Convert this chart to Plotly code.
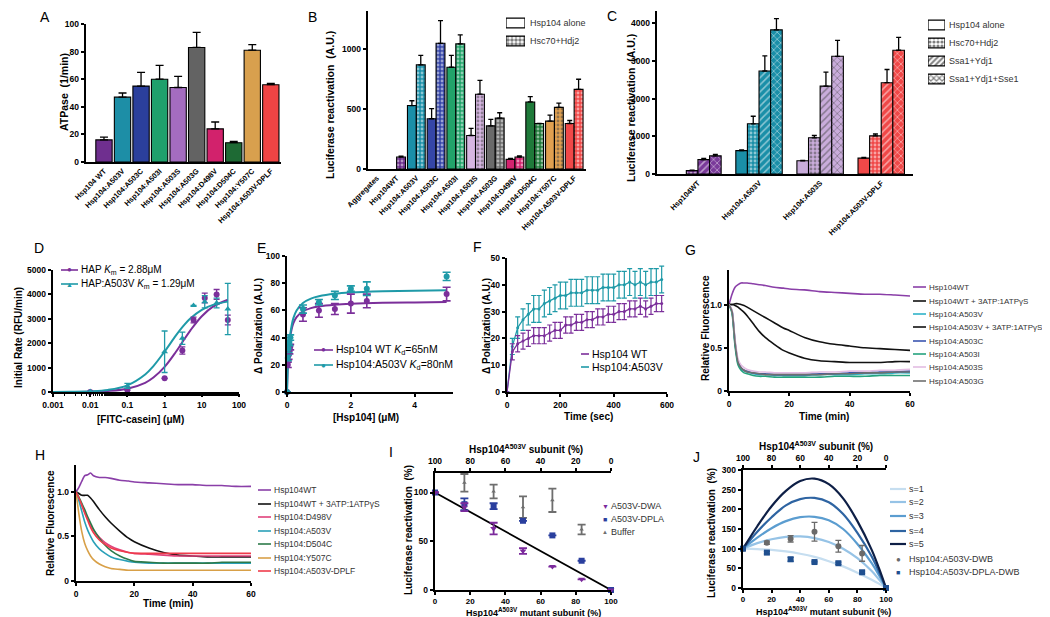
import plotly.graph_objects as go

W, H = 1050, 617

# ---------------- Panel A : ATPase ----------------
a_labels = ["Hsp104 WT", "Hsp104:A503V", "Hsp104:A503C", "Hsp104:A503I", "Hsp104:A503S",
            "Hsp104:A503G", "Hsp104:D498V", "Hsp104:D504C", "Hsp104:Y507C", "Hsp104:A503V-DPLF"]
a_values = [16, 47, 55, 60, 54, 83, 24, 14, 81, 56]
a_errors = [2, 3, 10, 10, 8, 11, 5, 1, 4, 1]
a_colors = ["#6f2f8f", "#1d8ea6", "#2b3f9c", "#1fa06c", "#a46cc0",
            "#636363", "#d2226c", "#1e6a34", "#d8a04e", "#f04444"]

# ---------------- Panel B : luciferase reactivation ----------------
b_labels = ["Aggregates", "Hsp104WT", "Hsp104:A503V", "Hsp104:A503C", "Hsp104:A503I", "Hsp104:A503S",
            "Hsp104:A503G", "Hsp104:D498V", "Hsp104:D504C", "Hsp104:Y507C", "Hsp104:A503V-DPLF"]
b_alone = [None, None, 530, 420, 850, 280, 360, 80, 560, 400, 380]
b_alone_err = [0, 0, 40, 85, 100, 60, 55, 8, 45, 50, 25]
b_hsc = [None, 100, 870, 1050, 1045, 625, 425, 100, 380, 515, 665]
b_hsc_err = [0, 8, 80, 190, 75, 115, 45, 10, 0, 35, 85]
b_colors = ["#777777", "#6a2c8a", "#1a8fa8", "#3546a8", "#22a36a", "#d6b6e2",
            "#6a6a6a", "#d4236f", "#1f7a3a", "#e0a050", "#f04848"]
b_legend = ["Hsp104 alone", "Hsc70+Hdj2"]
b_legend_patterns = ["", "."]

# ---------------- Panel C ----------------
c_labels = ["Hsp104WT", "Hsp104:A503V", "Hsp104:A503S", "Hsp104:A503V-DPLF"]
c_colors = ["#7a3a9a", "#1a8fa8", "#c9acdb", "#f04848"]
c_alone = [None, 620, 350, 420]
c_alone_err = [0, 20, 10, 20]
c_hsc = [90, 1330, 960, 1010]
c_hsc_err = [10, 200, 60, 50]
c_ssa = [380, 2730, 2330, 2420]
c_ssa_err = [35, 400, 370, 350]
c_sse = [480, 3820, 3120, 3280]
c_sse_err = [40, 300, 420, 340]
c_legend = ["Hsp104 alone", "Hsc70+Hdj2", "Ssa1+Ydj1", "Ssa1+Ydj1+Sse1"]
c_legend_patterns = ["", ".", "/", "x"]

# ---------------- Panel D ----------------
d_conc = [0.01, 0.1, 1, 3, 6, 12, 25, 50]
d_hap = [0, 80, 560, 1700, 2950, 3850, 4000, 2950]
d_hap_err = [0, 0, 0, 150, 120, 200, 200, 200]
d_a503v = [20, 250, 1650, 2200, 3550, 3700, 3650, 3400]
d_a503v_err = [0, 100, 850, 250, 0, 250, 200, 1050]
d_fit_x = [0.001, 0.003, 0.01, 0.03, 0.1, 0.3, 0.5, 1, 2, 3, 5, 10, 20, 50]
d_fit_hap = [1, 4, 14, 41, 134, 377, 592, 1031, 1639, 2041, 2538, 3106, 3497, 3782]
d_fit_a503v = [3, 9, 29, 86, 273, 717, 1061, 1659, 2310, 2657, 3021, 3366, 3570, 3704]

# ---------------- Panel E ----------------
e_conc = [0, 0.025, 0.05, 0.075, 0.1, 0.5, 1, 1.5, 2, 2.5, 5]
e_wt = [0, 20, 27, 31, 33, 57, 60, 61, 65, 67, 72]
e_wt_err = [0, 2, 3, 3, 2, 5, 5, 4, 7, 5, 5]
e_a503v = [0, 25, 32, 37, 40, 61, 66, 71, 76, 76, 85]
e_a503v_err = [0, 2, 3, 3, 2, 3, 2, 3, 2, 5, 3]
e_fit_x = [0, 0.02, 0.05, 0.1, 0.2, 0.3, 0.5, 0.75, 1, 1.5, 2, 3, 4, 5]
e_fit_wt = [0, 15.8, 29.1, 40.6, 50.6, 55.1, 59.3, 61.7, 62.9, 64.2, 64.9, 65.6, 65.9, 66.1]
e_fit_a503v = [0, 15.2, 29.2, 42.2, 54.3, 60.0, 65.5, 68.7, 70.4, 72.2, 73.1, 74.0, 74.5, 74.8]

# ---------------- Panel F ----------------
f_time = [0, 20, 40, 60, 80, 100, 120, 140, 160, 180, 200, 220, 240, 260, 280, 300,
          320, 340, 360, 380, 400, 420, 440, 460, 480, 500, 520, 540, 560, 580]
f_wt = [0, 15, 18, 19, 20, 21, 21, 21, 22, 23, 23, 25, 25, 26, 26, 27,
        27, 28, 28, 29, 29, 30, 30, 31, 31, 32, 31, 32, 33, 33]
f_wt_err = [0, 3, 3, 3, 3, 3, 3, 3, 3, 3, 3, 3, 3, 3, 3, 3,
            3, 3, 3, 3, 3, 3, 3, 3, 3, 3, 3, 3, 3, 3]
f_a503v = [0, 17, 24, 27, 29, 31, 31, 33, 34, 35, 36, 36, 37, 37, 37, 38,
           38, 38, 39, 39, 39, 40, 40, 41, 40, 41, 40, 41, 41, 42]
f_a503v_err = [0, 3, 4, 4, 4, 5, 5, 5, 5, 5, 5, 5, 5, 5, 5, 5,
               5, 5, 5, 5, 5, 5, 5, 5, 5, 5, 5, 5, 5, 5]

# ---------------- Panel G ----------------
g_time = [0, 1, 2, 3, 4, 5, 6, 8, 10, 12, 15, 18, 20, 25, 30, 35, 40, 45, 50, 55, 60]
g_names = ["Hsp104WT", "Hsp104WT + 3ATP:1ATPγS", "Hsp104:A503V", "Hsp104:A503V + 3ATP:1ATPγS",
           "Hsp104:A503C", "Hsp104:A503I", "Hsp104:A503S", "Hsp104:A503G"]
g_colors = ["#8a3fa8", "#111111", "#2fb3c8", "#111111", "#3a55b0", "#25a37e", "#e3bde3", "#6f6f6f"]
g_wt = [1.0, 1.12, 1.20, 1.23, 1.25, 1.25, 1.25, 1.24, 1.23, 1.22, 1.20, 1.19, 1.18, 1.17, 1.15, 1.14, 1.13, 1.12, 1.12, 1.11, 1.10]
g_wt_atpgs = [1.0, 1.0, 1.01, 1.01, 1.0, 0.99, 0.97, 0.93, 0.89, 0.85, 0.79, 0.73, 0.70, 0.62, 0.57, 0.54, 0.52, 0.50, 0.49, 0.48, 0.47]
g_a503v = [1.0, 0.92, 0.55, 0.32, 0.26, 0.23, 0.22, 0.20, 0.19, 0.19, 0.18, 0.18, 0.18, 0.18, 0.19, 0.19, 0.19, 0.20, 0.20, 0.21, 0.21]
g_a503v_atpgs = [1.0, 1.0, 0.99, 0.97, 0.94, 0.91, 0.87, 0.78, 0.69, 0.62, 0.54, 0.47, 0.44, 0.38, 0.35, 0.34, 0.33, 0.33, 0.33, 0.34, 0.34]
g_a503c = [1.0, 0.93, 0.57, 0.34, 0.27, 0.24, 0.23, 0.21, 0.20, 0.20, 0.19, 0.19, 0.19, 0.19, 0.20, 0.20, 0.21, 0.21, 0.22, 0.22, 0.23]
g_a503i = [1.0, 0.90, 0.52, 0.30, 0.24, 0.21, 0.20, 0.18, 0.17, 0.17, 0.16, 0.16, 0.16, 0.16, 0.16, 0.17, 0.17, 0.17, 0.18, 0.18, 0.18]
g_a503s = [1.0, 0.94, 0.60, 0.37, 0.30, 0.27, 0.25, 0.23, 0.22, 0.22, 0.21, 0.21, 0.21, 0.21, 0.22, 0.22, 0.23, 0.23, 0.24, 0.24, 0.25]
g_a503g = [1.0, 0.92, 0.56, 0.33, 0.27, 0.24, 0.22, 0.21, 0.20, 0.19, 0.19, 0.19, 0.19, 0.19, 0.19, 0.20, 0.20, 0.21, 0.21, 0.22, 0.22]
g_series = [g_wt, g_wt_atpgs, g_a503v, g_a503v_atpgs, g_a503c, g_a503i, g_a503s, g_a503g]

# ---------------- Panel H ----------------
h_time = [0, 1, 2, 3, 4, 5, 6, 8, 10, 12, 15, 18, 20, 25, 30, 35, 40, 45, 50, 55, 60]
h_names = ["Hsp104WT", "Hsp104WT + 3ATP:1ATPγS", "Hsp104:D498V", "Hsp104:A503V",
           "Hsp104:D504C", "Hsp104:Y507C", "Hsp104:A503V-DPLF"]
h_colors = ["#8a3fa8", "#111111", "#e0407a", "#2aa0b8", "#2d7a4a", "#d8a048", "#ef3b4b"]
h_wt = [1.0, 1.05, 1.12, 1.18, 1.19, 1.21, 1.18, 1.16, 1.16, 1.15, 1.13, 1.12, 1.11, 1.10, 1.09, 1.08, 1.08, 1.07, 1.07, 1.06, 1.06]
h_wt_atpgs = [1.0, 0.98, 0.96, 0.96, 0.96, 0.93, 0.89, 0.80, 0.72, 0.65, 0.56, 0.48, 0.44, 0.37, 0.32, 0.29, 0.28, 0.27, 0.27, 0.27, 0.27]
h_d498v = [1.0, 0.93, 0.85, 0.77, 0.70, 0.63, 0.57, 0.49, 0.43, 0.39, 0.35, 0.32, 0.31, 0.30, 0.29, 0.28, 0.28, 0.28, 0.28, 0.28, 0.28]
h_a503v = [1.0, 0.90, 0.78, 0.66, 0.57, 0.50, 0.44, 0.36, 0.31, 0.27, 0.24, 0.22, 0.21, 0.20, 0.20, 0.20, 0.20, 0.20, 0.20, 0.20, 0.20]
h_d504c = [1.0, 0.94, 0.87, 0.80, 0.72, 0.65, 0.58, 0.48, 0.40, 0.34, 0.28, 0.24, 0.22, 0.21, 0.20, 0.20, 0.20, 0.20, 0.21, 0.21, 0.21]
h_y507c = [1.0, 0.75, 0.55, 0.42, 0.34, 0.28, 0.24, 0.19, 0.16, 0.14, 0.13, 0.12, 0.12, 0.12, 0.12, 0.12, 0.12, 0.12, 0.12, 0.12, 0.12]
h_dplf = [1.0, 0.93, 0.85, 0.76, 0.68, 0.60, 0.54, 0.46, 0.41, 0.37, 0.34, 0.32, 0.31, 0.31, 0.31, 0.31, 0.31, 0.31, 0.31, 0.31, 0.31]
h_series = [h_wt, h_wt_atpgs, h_d498v, h_a503v, h_d504c, h_y507c, h_dplf]

# ---------------- Panel I ----------------
i_mutant = [0, 16.7, 33.3, 50, 66.7, 83.3, 100]
i_dwa = [100, 85, 63, 40, 24, 11, 0]
i_dwa_err = [0, 4, 6, 3, 0, 0, 0]
i_dpla = [100, 88, 86, 71, 56, 30, 0]
i_dpla_err = [0, 6, 3, 0, 0, 0, 0]
i_buffer_x = [16.7, 33.3, 50, 66.7, 83.3]
i_buffer = [110, 101, 85, 92, 62]
i_buffer_err = [9, 7, 11, 12, 5]
i_line_x = [0, 100]
i_line_y = [100, 0]

# ---------------- Panel J ----------------
j_mutant = [0, 16.7, 33.3, 50, 66.7, 83.3, 100]
j_dwb = [100, 115, 125, 143, 106, 88, 0]
j_dwb_err = [0, 4, 8, 24, 15, 20, 0]
j_dpla_dwb = [100, 90, 73, 66, 63, 40, 0]
j_dpla_dwb_err = [0, 3, 5, 2, 3, 3, 0]
j_model_x = [0, 10, 20, 30, 40, 50, 60, 70, 80, 90, 95, 100]
j_s1 = [100, 99, 97, 93, 87, 79, 68, 55, 39, 21, 11, 0]
j_s2 = [100, 114, 124, 130, 131, 127, 117, 100, 76, 43, 22, 0]
j_s3 = [100, 128, 152, 170, 180, 181, 172, 150, 112, 63, 33, 0]
j_s4 = [100, 143, 180, 210, 226, 229, 218, 188, 140, 80, 42, 0]
j_s5 = [100, 157, 208, 247, 272, 278, 264, 228, 170, 97, 51, 0]
j_models = [j_s1, j_s2, j_s3, j_s4, j_s5]
j_model_names = ["s=1", "s=2", "s=3", "s=4", "s=5"]
j_model_colors = ["#c6def0", "#96c3e6", "#5b9dd0", "#2e64a2", "#0e1f46"]

# =====================================================================
FONT = "Arial"
BLACK = "black"
TICK_SIZE = 8.5


def xdom(a, b):
    return [a / W, b / W]


def ydom(top, bottom):
    return [1 - bottom / H, 1 - top / H]


def P(x, y):
    return x / W, 1 - y / H


def axis(domain, rng, anchor, **kw):
    d = dict(domain=domain, range=rng, anchor=anchor, showline=True, linecolor=BLACK, linewidth=1.6,
             ticks="outside", ticklen=3.5, tickwidth=1.5, tickcolor=BLACK, showgrid=False,
             zeroline=False, automargin=False, fixedrange=True,
             tickfont=dict(family=FONT, size=TICK_SIZE, color=BLACK, weight="bold"))
    d.update(kw)
    return d


def hidden_axis(domain, rng, anchor):
    return dict(domain=domain, range=rng, anchor=anchor, visible=False, showgrid=False, zeroline=False,
                fixedrange=True, automargin=False)


def err(arr, up_only=False, width=4, thick=1.3, color=BLACK):
    d = dict(type="data", array=arr, color=color, thickness=thick, width=width, visible=True)
    if up_only:
        d.update(symmetric=False, arrayminus=[0] * len(arr))
    return d


traces = []
BAR_LINE = dict(color=BLACK, width=1.1)

# ---- A
traces.append(go.Bar(x=a_labels, y=a_values, xaxis="x", yaxis="y", width=0.88,
                     marker=dict(color=a_colors, line=BAR_LINE),
                     error_y=err(a_errors, up_only=True)))

# ---- B
traces.append(go.Bar(x=b_labels, y=b_alone, xaxis="x2", yaxis="y2", offset=-0.45, width=0.45,
                     marker=dict(color=b_colors, line=BAR_LINE),
                     error_y=err(b_alone_err, up_only=True, width=2.5)))
traces.append(go.Bar(x=b_labels, y=b_hsc, xaxis="x2", yaxis="y2", offset=0.0, width=0.45,
                     marker=dict(color=b_colors, line=BAR_LINE,
                                 pattern=dict(shape=".", fgcolor=BLACK, size=4, solidity=0.4, fillmode="overlay")),
                     error_y=err(b_hsc_err, up_only=True, width=2.5)))
# B legend swatches (on a small hidden axis pair)
traces.append(go.Bar(y=list(range(len(b_legend))), x=[1] * len(b_legend), orientation="h", base=0,
                     xaxis="x13", yaxis="y13", width=0.55,
                     marker=dict(color="white", line=dict(color=BLACK, width=1.2),
                                 pattern=dict(shape=b_legend_patterns, fgcolor=BLACK, bgcolor="white",
                                              size=4, solidity=0.6, fillmode="overlay"))))

# ---- C
c_sets = [(c_alone, c_alone_err, None), (c_hsc, c_hsc_err, "."), (c_ssa, c_ssa_err, "/"), (c_sse, c_sse_err, "x")]
for k, (vals, errs, shp) in enumerate(c_sets):
    mk = dict(color=c_colors, line=BAR_LINE)
    if shp:
        mk["pattern"] = dict(shape=shp, fgcolor=BLACK, size=4 if shp == "." else 5,
                             solidity=0.4 if shp == "." else 0.3, fillmode="overlay")
    traces.append(go.Bar(x=c_labels, y=vals, xaxis="x3", yaxis="y3", offset=-0.38 + 0.19 * k, width=0.19,
                         marker=mk, error_y=err(errs, up_only=True, width=2.5)))
# C legend swatches
traces.append(go.Bar(y=list(range(len(c_legend))), x=[1] * len(c_legend), orientation="h", base=0,
                     xaxis="x14", yaxis="y14", width=0.55,
                     marker=dict(color="white", line=dict(color=BLACK, width=1.2),
                                 pattern=dict(shape=c_legend_patterns, fgcolor=BLACK, bgcolor="white",
                                              size=4, solidity=0.5, fillmode="overlay"))))

# ---- D
PURPLE = "#7b2f9a"
TEAL = "#1f9aa8"
traces.append(go.Scatter(x=d_fit_x, y=d_fit_hap, xaxis="x4", yaxis="y4", mode="lines", line=dict(color=PURPLE, width=2, shape="spline")))
traces.append(go.Scatter(x=d_fit_x, y=d_fit_a503v, xaxis="x4", yaxis="y4", mode="lines", line=dict(color=TEAL, width=2, shape="spline")))
traces.append(go.Scatter(x=d_conc, y=d_hap, xaxis="x4", yaxis="y4", mode="markers", cliponaxis=False,
                         marker=dict(color=PURPLE, size=6, symbol="circle"), error_y=err(d_hap_err, color=PURPLE, width=3)))
traces.append(go.Scatter(x=d_conc, y=d_a503v, xaxis="x4", yaxis="y4", mode="markers", cliponaxis=False,
                         marker=dict(color=TEAL, size=6, symbol="triangle-up"), error_y=err(d_a503v_err, color=TEAL, width=3)))

# ---- E
traces.append(go.Scatter(x=e_fit_x, y=e_fit_wt, xaxis="x5", yaxis="y5", mode="lines", line=dict(color=PURPLE, width=2, shape="spline")))
traces.append(go.Scatter(x=e_fit_x, y=e_fit_a503v, xaxis="x5", yaxis="y5", mode="lines", line=dict(color=TEAL, width=2, shape="spline")))
traces.append(go.Scatter(x=e_conc, y=e_wt, xaxis="x5", yaxis="y5", mode="markers", cliponaxis=False,
                         marker=dict(color=PURPLE, size=6), error_y=err(e_wt_err, color=PURPLE, width=4, thick=1.6)))
traces.append(go.Scatter(x=e_conc, y=e_a503v, xaxis="x5", yaxis="y5", mode="markers", cliponaxis=False,
                         marker=dict(color=TEAL, size=6), error_y=err(e_a503v_err, color=TEAL, width=4, thick=1.6)))

# ---- F
traces.append(go.Scatter(x=f_time, y=f_a503v, xaxis="x6", yaxis="y6", mode="lines+markers", cliponaxis=False,
                         line=dict(color=TEAL, width=1.3), marker=dict(color=TEAL, size=3),
                         error_y=err(f_a503v_err, color=TEAL, width=2.5, thick=1.2)))
traces.append(go.Scatter(x=f_time, y=f_wt, xaxis="x6", yaxis="y6", mode="lines+markers", cliponaxis=False,
                         line=dict(color=PURPLE, width=1.3), marker=dict(color=PURPLE, size=3),
                         error_y=err(f_wt_err, color=PURPLE, width=2.5, thick=1.2)))

# ---- G
for ser, col in zip(g_series, g_colors):
    traces.append(go.Scatter(x=g_time, y=ser, xaxis="x7", yaxis="y7", mode="lines",
                             line=dict(color=col, width=1.6, shape="spline", smoothing=0.6)))

# ---- H
for ser, col in zip(h_series, h_colors):
    traces.append(go.Scatter(x=h_time, y=ser, xaxis="x8", yaxis="y8", mode="lines",
                             line=dict(color=col, width=1.6, shape="spline", smoothing=0.6)))

# ---- I
I_PURPLE = "#7b2a9c"
I_BLUE = "#2a3f9e"
I_GRAY = "#6e6e6e"
traces.append(go.Scatter(x=i_line_x, y=i_line_y, xaxis="x9", yaxis="y9", mode="lines",
                         line=dict(color=BLACK, width=1.8)))
traces.append(go.Scatter(x=i_buffer_x, y=i_buffer, xaxis="x9", yaxis="y9", mode="markers", cliponaxis=False,
                         marker=dict(color=I_GRAY, size=4, symbol="triangle-up"),
                         error_y=err(i_buffer_err, color=I_GRAY, width=4, thick=1.8)))
traces.append(go.Scatter(x=i_mutant, y=i_dpla, xaxis="x9", yaxis="y9", mode="markers", cliponaxis=False,
                         marker=dict(color=I_BLUE, size=6, symbol="square"),
                         error_y=err(i_dpla_err, color=I_BLUE, width=4, thick=1.8)))
traces.append(go.Scatter(x=i_mutant, y=i_dwa, xaxis="x9", yaxis="y9", mode="markers", cliponaxis=False,
                         marker=dict(color=I_PURPLE, size=6, symbol="triangle-down"),
                         error_y=err(i_dwa_err, color=I_PURPLE, width=4, thick=1.8)))
traces.append(go.Scatter(x=[None], y=[None], xaxis="x10", yaxis="y9", mode="markers"))

# ---- J
for ser, col in zip(j_models, j_model_colors):
    traces.append(go.Scatter(x=j_model_x, y=ser, xaxis="x11", yaxis="y11", mode="lines",
                             line=dict(color=col, width=2.2, shape="spline")))
traces.append(go.Scatter(x=j_mutant, y=j_dwb, xaxis="x11", yaxis="y11", mode="markers", cliponaxis=False,
                         marker=dict(color="#6a6a6a", size=6), error_y=err(j_dwb_err, color="#6a6a6a", width=3, thick=1.3)))
traces.append(go.Scatter(x=j_mutant, y=j_dpla_dwb, xaxis="x11", yaxis="y11", mode="markers", cliponaxis=False,
                         marker=dict(color="#1f4f8f", size=6, symbol="square"),
                         error_y=err(j_dpla_dwb_err, color="#1f4f8f", width=3, thick=1.3)))
traces.append(go.Scatter(x=[None], y=[None], xaxis="x12", yaxis="y11", mode="markers"))

fig = go.Figure(data=traces)

cat_font = dict(family=FONT, size=7.5, color=BLACK, weight="bold")
small_tick = dict(family=FONT, size=8, color=BLACK, weight="bold")
layout_axes = dict(
    # A
    xaxis=axis(xdom(78, 273), [-0.97, 9.55], "y", type="category", ticks="", tickangle=-45, tickfont=cat_font),
    yaxis=axis(ydom(16, 154), [0, 100], "x", tickvals=[0, 20, 40, 60, 80, 100]),
    # B
    xaxis2=axis(xdom(360, 578), [-0.45, 10.6], "y2", type="category", ticks="", tickangle=-45, tickfont=cat_font),
    yaxis2=axis(ydom(3, 161), [0, 1320], "x2", tickvals=[0, 500, 1000]),
    # C
    xaxis3=axis(xdom(649, 905), [-0.67, 3.52], "y3", type="category", ticks="", tickangle=-45, tickfont=cat_font),
    yaxis3=axis(ydom(3, 166), [0, 4320], "x3", tickvals=[0, 1000, 2000, 3000, 4000]),
    # D
    xaxis4=axis(xdom(45, 231), [-3, 2], "y4", type="log", tickvals=[0.001, 0.01, 0.1, 1, 10, 100],
                ticktext=["0.001", "0.01", "0.1", "1", "10", "100"],
                minor=dict(ticks="outside", ticklen=2.5, tickwidth=1, tickcolor=BLACK, showgrid=False)),
    yaxis4=axis(ydom(262, 384), [0, 5000], "x4", tickvals=[0, 1000, 2000, 3000, 4000, 5000]),
    # E
    xaxis5=axis(xdom(279, 445), [0, 5.2], "y5", tickvals=[0, 2, 4]),
    yaxis5=axis(ydom(248, 384), [0, 100], "x5", tickvals=[0, 20, 40, 60, 80, 100]),
    # F
    xaxis6=axis(xdom(499, 659), [0, 600], "y6", tickvals=[0, 200, 400, 600]),
    yaxis6=axis(ydom(250, 384), [0, 50], "x6", tickvals=[0, 10, 20, 30, 40, 50]),
    # G
    xaxis7=axis(xdom(721, 902), [0, 60], "y7", tickvals=[0, 20, 40, 60]),
    yaxis7=axis(ydom(262, 383), [0, 1.4], "x7", tickvals=[0, 0.5, 1.0], ticktext=["0", "0.5", "1.0"]),
    # H
    xaxis8=axis(xdom(68, 243), [0, 60], "y8", tickvals=[0, 20, 40, 60]),
    yaxis8=axis(ydom(457, 573), [0, 1.3], "x8", tickvals=[0, 0.5, 1.0], ticktext=["0", "0.5", "1.0"]),
    # I
    xaxis9=axis(xdom(427, 603), [0, 100], "y9", tickvals=[0, 20, 40, 60, 80, 100], tickfont=small_tick, ticklen=3),
    xaxis10=axis(xdom(427, 603), [100, 0], "y9", overlaying="x9", side="top", tickvals=[0, 20, 40, 60, 80, 100]),
    yaxis9=axis(ydom(465, 582), [0, 120], "x9", tickvals=[0, 50, 100]),
    # J
    xaxis11=axis(xdom(735, 878), [0, 100], "y11", tickvals=[0, 20, 40, 60, 80, 100], tickfont=small_tick, ticklen=3),
    xaxis12=axis(xdom(735, 878), [100, 0], "y11", overlaying="x11", side="top", tickvals=[0, 20, 40, 60, 80, 100]),
    yaxis11=axis(ydom(462, 580), [0, 300], "x11", tickvals=[0, 50, 100, 150, 200, 250, 300]),
    # legend swatch areas for B and C
    xaxis13=hidden_axis(xdom(498, 517), [0, 1], "y13"),
    yaxis13=hidden_axis(ydom(6, 42), [1.5, -0.5], "x13"),
    xaxis14=hidden_axis(xdom(920, 937), [0, 1], "y14"),
    yaxis14=hidden_axis(ydom(8, 80), [3.5, -0.5], "x14"),
)

annotations = []
shapes = []


def text(x, y, s, size=10, bold=False, angle=0, xanchor="center", yanchor="middle", color=BLACK):
    px, py = P(x, y)
    annotations.append(dict(x=px, y=py, xref="paper", yref="paper", text=s, showarrow=False,
                            font=dict(family=FONT, size=size, color=color, weight="bold" if bold else "normal"),
                            textangle=angle, xanchor=xanchor, yanchor=yanchor, borderpad=0))


def legend_entry(x, y, color, label, length=13, symbol=None, msize=7, size=8.5, width=1.6, line=True,
                 tcolor="#333333", gap=2):
    if line:
        x0, y0 = P(x, y)
        x1, _ = P(x + length, y)
        shapes.append(dict(type="line", xref="paper", yref="paper", x0=x0, x1=x1, y0=y0, y1=y0,
                           line=dict(color=color, width=width)))
    if symbol:
        text(x + length / 2, y, symbol, size=msize, color=color)
    text(x + length + gap, y, label, size=size, xanchor="left", color=tcolor)


# panel letters
for letter, (lx, ly) in zip("ABCDEFGHIJ", [(37, 9), (304, 9), (604, 8), (31, 240), (253, 240), (469, 239),
                                             (682, 242), (32, 447), (383, 444), (688, 449)]):
    text(lx, ly, letter, size=14)

# axis titles
text(56, 84, "ATPase  (1/min)", size=10.5, bold=True, angle=-90)
text(322, 97, "Luciferase reactivation  (A.U.)", size=10.5, bold=True, angle=-90)
text(623, 100, "Luciferase reactivation  (A.U.)", size=10.5, bold=True, angle=-90)
text(11, 330, "Initial Rate (RFU/min)", size=10, bold=True, angle=-90)
text(132, 411, "[FITC-casein] (μM)", size=10, bold=True)
text(251, 318, "Δ Polarization (A.U.)", size=10, bold=True, angle=-90)
text(358, 409, "[Hsp104] (μM)", size=10, bold=True)
text(479, 318, "Δ Polarization (A.U.)", size=10, bold=True, angle=-90)
text(580, 408, "Time (sec)", size=10, bold=True)
text(697, 320, "Relative Fluorescence", size=10, bold=True, angle=-90)
text(816, 408, "Time (min)", size=10, bold=True)
text(42, 515, "Relative Fluorescence", size=10, bold=True, angle=-90)
text(160, 595, "Time (min)", size=10, bold=True)
text(400, 522, "Luciferase reactivation  (%)", size=10, bold=True, angle=-90)
text(518, 441, "Hsp104<sup>A503V</sup> subunit (%)", size=10, bold=True)
text(525, 604, "Hsp104<sup>A503V</sup> mutant subunit (%)", size=9, bold=True)
text(703, 525, "Luciferase reactivation  (%)", size=10, bold=True, angle=-90)
text(808, 438, "Hsp104<sup>A503V</sup> subunit (%)", size=10, bold=True)
text(815, 603, "Hsp104<sup>A503V</sup> mutant subunit (%)", size=9, bold=True)

# B / C legend texts (swatches are drawn by the hidden-axis bars)
for k, nm in enumerate(b_legend):
    text(521, 15 + 18 * k, nm, size=9, xanchor="left", color="#333333")
for k, nm in enumerate(c_legend):
    text(940, 17 + 18 * k, nm, size=9, xanchor="left", color="#333333")

# D legend
legend_entry(53, 262, PURPLE, "HAP <i>K</i><sub>m</sub> = 2.88μM", length=17, symbol="●", msize=8, size=10, tcolor=BLACK)
legend_entry(53, 276, TEAL, "HAP:A503V <i>K</i><sub>m</sub> = 1.29μM", length=17, symbol="▲", msize=7, size=10, tcolor=BLACK)
# E legend
legend_entry(306, 342, PURPLE, "Hsp104 WT <i>K</i><sub>d</sub>=65nM", length=19, symbol="●", msize=8, size=10.5, tcolor=BLACK)
legend_entry(306, 357, TEAL, "Hsp104:A503V <i>K</i><sub>d</sub>=80nM", length=19, symbol="●", msize=8, size=10.5, tcolor=BLACK)
# F legend
legend_entry(573, 346, PURPLE, "Hsp104 WT", length=8, size=10.5, tcolor=BLACK)
legend_entry(573, 359, TEAL, "Hsp104:A503V", length=8, size=10.5, tcolor=BLACK)
# G legend
for k, (nm, col) in enumerate(zip(g_names, g_colors)):
    legend_entry(905, [279, 293, 306, 319, 333, 346, 359, 373][k], col, nm, length=13, size=8)
# H legend
for k, (nm, col) in enumerate(zip(h_names, h_colors)):
    legend_entry(250, [482, 496, 509, 523, 536, 550, 563][k], col, nm, length=13, size=8.5)
# I legend
legend_entry(594, 498, I_PURPLE, "A503V-DWA", line=False, symbol="▼", msize=7, size=9, length=6)
legend_entry(594, 511, I_BLUE, "A503V-DPLA", line=False, symbol="■", msize=7, size=9, length=6)
legend_entry(594, 524, I_GRAY, "Buffer", line=False, symbol="▲", msize=6, size=9, length=6)
# J legend
for k, (nm, col) in enumerate(zip(j_model_names, j_model_colors)):
    legend_entry(882, [481, 494, 508, 523, 536][k], col, nm, length=16, size=9, width=2.2)
legend_entry(882, 551, "#6a6a6a", "Hsp104:A503V-DWB", line=False, symbol="●", msize=8, size=9, length=16)
legend_entry(882, 564, "#1f4f8f", "Hsp104:A503V-DPLA-DWB", line=False, symbol="■", msize=7, size=9, length=16)

fig.update_layout(
    template="none",
    width=W, height=H, margin=dict(l=0, r=0, t=0, b=0),
    paper_bgcolor="white", plot_bgcolor="rgba(0,0,0,0)",
    font=dict(family=FONT, color=BLACK),
    barmode="overlay", showlegend=False,
    annotations=annotations, shapes=shapes,
    **layout_axes,
)

fig.write_html("out.html")
